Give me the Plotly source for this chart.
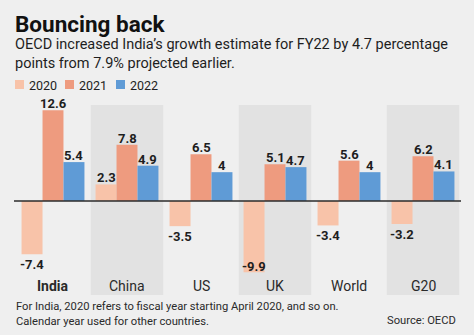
import plotly.graph_objects as go

# Data
categories = ["India", "China", "US", "UK", "World", "G20"]
years = ["2020", "2021", "2022"]
growth_2020 = [-7.4, 2.3, -3.5, -9.9, -3.4, -3.2]
growth_2021 = [12.6, 7.8, 6.5, 5.1, 5.6, 6.2]
growth_2022 = [5.4, 4.9, 4.0, 4.7, 4.0, 4.1]
shaded = ["China", "UK", "G20"]

series = [growth_2020, growth_2021, growth_2022]
colors = ["#f8c3a9", "#ee9b7f", "#5f9bd6"]

FONT = "Roboto"
BG = "#efefef"
BAND = "#e2e2e2"
INK = "#1e1e1e"

W, H = 474, 335
M_L, M_R, M_T, M_B = 16, 14, 105, 57
plot_w = W - M_L - M_R
plot_h = H - M_T - M_B
BARGAP = 0.15
bar_px = plot_w / len(categories) * (1 - BARGAP) / len(series)


def py(pix):
    """Convert a pixel row to paper y coordinate."""
    return (H - M_B - pix) / plot_h


def px(pix):
    return (pix - M_L) / plot_w


fig = go.Figure()
annotations = []

for j, (name, vals, col) in enumerate(zip(years, series, colors)):
    fig.add_trace(go.Bar(
        name=name,
        x=categories,
        y=vals,
        marker=dict(color=col, line=dict(width=0)),
        showlegend=False,
        hoverinfo="skip",
    ))
    # value labels at the bar ends
    for c, v in zip(categories, vals):
        if v >= 0:
            anchor, shift = "bottom", -3
        elif v < -9:
            anchor, shift = "bottom", -4   # too long to fit below: sits at the bar end
        else:
            anchor, shift = "top", -1
        annotations.append(dict(
            x=c, y=v, xref="x", yref="y", text="<b>%g</b>" % v,
            showarrow=False, xanchor="center", yanchor=anchor,
            xshift=(j - 1) * bar_px, yshift=shift,
            font=dict(family=FONT, size=13, color=INK)))

shapes = []
# shaded category bands
for c in shaded:
    i = categories.index(c)
    shapes.append(dict(type="rect", xref="x", yref="paper",
                       x0=i - 0.49, x1=i + 0.49, y0=py(295), y1=py(105),
                       fillcolor=BAND, line=dict(width=0), layer="below"))
# zero line
shapes.append(dict(type="line", xref="paper", yref="y",
                   x0=px(14), x1=px(461), y0=0, y1=0,
                   line=dict(color="#2b2b2b", width=1.5)))

# category labels
for i, c in enumerate(categories):
    label = "<b>%s</b>" % c if c == "India" else c
    annotations.append(dict(x=i, y=py(286), xref="x", yref="paper",
                            text=label, showarrow=False,
                            xanchor="center", yanchor="middle",
                            font=dict(family=FONT, size=14, color="#2a2a2a")))

# title and subtitle
annotations.append(dict(x=px(13), y=py(24), xref="paper", yref="paper",
                        text="<b>Bouncing back</b>", showarrow=False,
                        xanchor="left", yanchor="middle",
                        font=dict(family=FONT, size=22.5, color="#111111")))
annotations.append(dict(x=px(13), y=py(54), xref="paper", yref="paper",
                        text="OECD increased India’s growth estimate for FY22 by 4.7 percentage<br>"
                             "points from 7.9% projected earlier.",
                        showarrow=False, align="left",
                        xanchor="left", yanchor="middle",
                        font=dict(family=FONT, size=14.5, color="#1e1e1e")))

# legend
leg_x = [15, 65, 116]
for name, col, x0 in zip(years, colors, leg_x):
    shapes.append(dict(type="rect", xref="paper", yref="paper",
                       x0=px(x0), x1=px(x0 + 9), y0=py(89), y1=py(80),
                       fillcolor=col, line=dict(width=0)))
    annotations.append(dict(x=px(x0 + 12), y=py(85), xref="paper", yref="paper",
                            text=name, showarrow=False,
                            xanchor="left", yanchor="middle",
                            font=dict(family=FONT, size=12.5, color="#1e1e1e")))

# footnote and source
annotations.append(dict(x=px(14), y=py(313.5), xref="paper", yref="paper",
                        text="For India, 2020 refers to fiscal year starting April 2020, and so on.<br>"
                             "Calendar year used for other countries.",
                        showarrow=False, align="left",
                        xanchor="left", yanchor="middle",
                        font=dict(family=FONT, size=11.2, color="#2a2a2a")))
annotations.append(dict(x=px(458), y=py(320), xref="paper", yref="paper",
                        text="Source: OECD", showarrow=False,
                        xanchor="right", yanchor="middle",
                        font=dict(family=FONT, size=11.2, color="#2a2a2a")))

fig.update_layout(
    width=W, height=H,
    margin=dict(l=M_L, r=M_R, t=M_T, b=M_B, pad=0),
    paper_bgcolor=BG, plot_bgcolor="rgba(0,0,0,0)",
    barmode="group", bargap=BARGAP, bargroupgap=0,
    xaxis=dict(showticklabels=False, showgrid=False, zeroline=False,
               showline=False, ticks=""),
    yaxis=dict(range=[-10.7, 13.33], showticklabels=False, showgrid=False,
               zeroline=False, showline=False, ticks=""),
    shapes=shapes, annotations=annotations,
    font=dict(family=FONT),
)

fig.write_html("out.html", config={"displayModeBar": False})
